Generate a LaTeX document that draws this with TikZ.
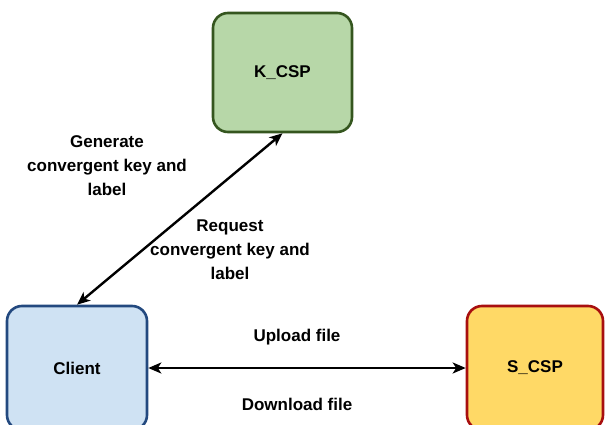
\documentclass[tikz,border=0pt]{standalone}
\usepackage{fontspec}
\setmainfont{Liberation Sans}
\usetikzlibrary{arrows.meta}

\definecolor{greenfill}{HTML}{B7D7A8}
\definecolor{greenline}{HTML}{35561F}
\definecolor{bluefill}{HTML}{CFE2F3}
\definecolor{blueline}{HTML}{23497F}
\definecolor{yellowfill}{HTML}{FFD966}
\definecolor{yellowline}{HTML}{A80F0F}

\tikzset{
  party/.style={draw, line width=2.6pt, rounded corners=15pt, inner sep=0pt,
    font=\fontsize{17}{24}\selectfont\bfseries},
  msg/.style={font=\fontsize{17}{24}\selectfont\bfseries, align=center, inner sep=0pt},
  link/.style={line width=2.4pt, {Stealth[length=13pt,width=11pt,inset=3.5pt]}-{Stealth[length=13pt,width=11pt,inset=3.5pt]}}
}

\begin{document}
\begin{tikzpicture}[x=1pt, y=-1pt]
  \useasboundingbox (0,0) rectangle (605,425);

  % the three parties
  \node[party, fill=greenfill, draw=greenline, minimum width=139pt, minimum height=119pt]
    (kcsp) at (282.5,72.5) {K\_CSP};
  \node[party, fill=bluefill, draw=blueline, minimum width=140pt, minimum height=124pt]
    (client) at (77,368) {Client};
  \node[party, fill=yellowfill, draw=yellowline, minimum width=136pt, minimum height=124pt]
    (scsp) at (535,368) {S\_CSP};

  % key exchange between client and key server
  \draw[link] (client.north) -- (kcsp.south);
  \node[msg] (gen) at (107,166) {Generate\\convergent key and\\label};
  \node[msg] (req) at (230,250) {Request\\convergent key and\\label};

  % file transfer between client and storage server
  \draw[link] (client.east) -- (scsp.west);
  \node[msg] (up) at (297,337) {Upload file};
  \node[msg] (down) at (297,404) {Download file};
\end{tikzpicture}
\end{document}
